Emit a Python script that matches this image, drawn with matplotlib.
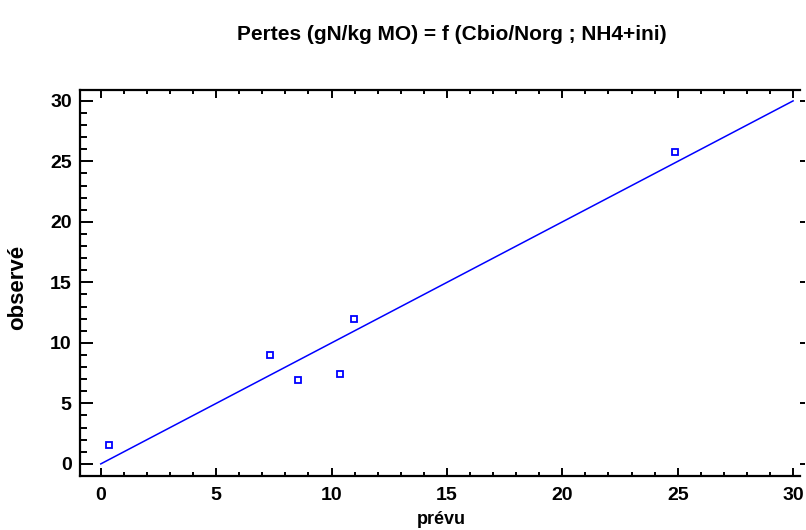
import matplotlib
matplotlib.use("Agg")
import matplotlib.pyplot as plt
from matplotlib.ticker import MultipleLocator

# Valeurs prévues / observées
prevu = [0.35, 7.34, 8.56, 10.37, 10.99, 24.88]
observe = [1.6, 9.0, 6.94, 7.46, 11.97, 25.74]

# Droite 1:1
ligne_x = [0, 30]
ligne_y = [0, 30]

x_ticks = [0, 5, 10, 15, 20, 25, 30]
y_ticks = [0, 5, 10, 15, 20, 25, 30]

plt.rcParams["font.family"] = ["Liberation Sans", "DejaVu Sans"]
plt.rcParams["font.weight"] = "bold"

fig = plt.figure(figsize=(8.06, 5.30), dpi=100)
ax = fig.add_axes([80 / 806, 1 - 476 / 530, 720 / 806, 386 / 530])

ax.plot(ligne_x, ligne_y, color="#0000ff", linewidth=1.1)
ax.plot(prevu, observe, linestyle="none", marker="s", markersize=5,
        markerfacecolor="none", markeredgecolor="#0000ff", markeredgewidth=1.3)

ax.set_xlim(-0.9, 30.3)
ax.set_ylim(-1.0, 30.9)
ax.set_xticks(x_ticks)
ax.set_yticks(y_ticks)
ax.xaxis.set_minor_locator(MultipleLocator(1))
ax.yaxis.set_minor_locator(MultipleLocator(1))

for s in ["left", "top", "bottom"]:
    ax.spines[s].set_linewidth(1.6)
ax.spines["right"].set_visible(False)

ax.tick_params(axis="x", which="both", direction="in", top=True, bottom=True,
               width=1.4, labelsize=14, pad=8)
ax.tick_params(axis="x", which="major", length=6)
ax.tick_params(axis="x", which="minor", length=3)
ax.tick_params(axis="y", which="both", direction="in", left=True, right=False,
               width=1.4, labelsize=14, pad=6)
ax.tick_params(axis="y", which="major", length=9.5)
ax.tick_params(axis="y", which="minor", length=5)

# petits traits à droite
droite = ax.secondary_yaxis("right")
droite.set_yticks(y_ticks)
droite.tick_params(direction="out", length=3.5, width=1.4, labelright=False)
droite.spines["right"].set_visible(False)

for lab in ax.get_xticklabels() + ax.get_yticklabels():
    lab.set_fontweight("bold")

fig.text(441 / 806, 1 - 519 / 530, "prévu", ha="center", va="center",
         fontsize=13, fontweight="bold")
fig.text(17.5 / 806, 1 - 287 / 530, "observé", ha="center", va="center",
         rotation=90, fontsize=16, fontweight="bold")

fig.text(452 / 806, 1 - 35 / 530, "Pertes (gN/kg MO) = f (Cbio/Norg ; NH4+ini)",
         ha="center", va="center", fontsize=15, fontweight="bold")

fig.savefig("out.png", dpi=100)
